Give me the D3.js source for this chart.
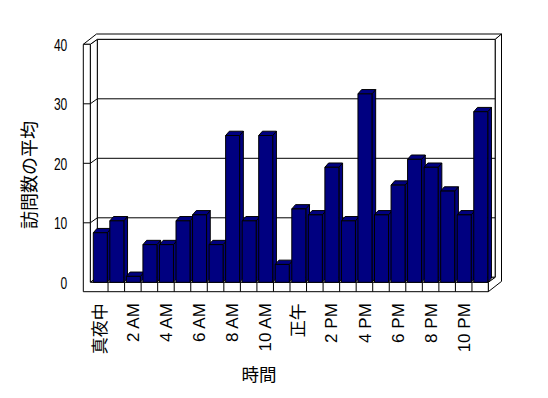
<!DOCTYPE html>
<html><head><meta charset="utf-8">
<script src="https://cdn.jsdelivr.net/npm/d3@7"></script>
<style>html,body{margin:0;padding:0;background:#fff;overflow:hidden}svg{display:block}</style>
</head><body>
<svg id="c" width="548" height="398"></svg>
<script>
// ---- data ----
const hours = [0,1,2,3,4,5,6,7,8,9,10,11,12,13,14,15,16,17,18,19,20,21,22,23];
const avgVisits = [8.33,10.33,1,6.33,6.33,10.33,11.33,6.33,24.67,10.33,24.67,3,12.33,11.33,19.33,10.33,31.67,11.33,16.33,20.67,19.33,15.33,11.33,28.67];
const labelHours = [0,2,4,6,8,10,12,14,16,18,20,22];
const hourLabels = ["真夜中","2 AM","4 AM","6 AM","8 AM","10 AM","正午","2 PM","4 PM","6 PM","8 PM","10 PM"];
const yTicks = [0,10,20,30,40];
const yTitle = "訪問数の平均";
const xTitle = "時間";

// ---- layout ----
const svg = d3.select("#c");
const FONT = "'Liberation Sans','Noto Sans CJK JP',sans-serif";
const fx0 = 90.3, fx1 = 488.3, slabX = 83.3, floorBottom = 291.7;
const dep = {x:7, y:-5};      // depth of plot box
const wallT = {x:6.2, y:-5.3}; // wall thickness
const bar = {off:1.8, w:14, dx:3.7, dy:-4.3};
const BAR = "#000080";

const x = d3.scaleBand().domain(hours).range([91.5, 488.5]).padding(0);
const y = d3.scaleLinear().domain([0,40]).range([282.3, 44.3]);
const y0 = y(0), yTop = y(40);
const line = d3.line();
const ln = {stroke:"#000","stroke-width":1,fill:"none"};
function poly(g, pts, fill){
  return g.append("path").attr("d", line(pts)+"Z").attr("fill",fill).attr("stroke","#000").attr("stroke-width",1).attr("stroke-linejoin","miter");
}

const frame = svg.append("g");
// back wall face
poly(frame, [[fx0+dep.x, yTop+dep.y],[fx1+dep.x, yTop+dep.y],[fx1+dep.x, y0+dep.y],[fx0+dep.x, y0+dep.y]], "#fff");
// gridlines on back wall
frame.selectAll("line.grid").data(yTicks.filter(t=>t>0 && t<40)).join("line")
  .attr("x1", fx0+dep.x).attr("x2", fx1+dep.x)
  .attr("y1", d=>y(d)+dep.y).attr("y2", d=>y(d)+dep.y)
  .attr("stroke","#000");
// left wall inner face
poly(frame, [[fx0, yTop],[fx0+dep.x, yTop+dep.y],[fx0+dep.x, y0+dep.y],[fx0, y0]], "#fff");
frame.selectAll("line.lt").data(yTicks.filter(t=>t>0 && t<40)).join("line")
  .attr("x1", fx0).attr("x2", fx0+dep.x)
  .attr("y1", d=>y(d)).attr("y2", d=>y(d)+dep.y).attr("stroke","#000");
// floor top
poly(frame, [[fx0, y0],[fx1, y0],[fx1+dep.x, y0+dep.y],[fx0+dep.x, y0+dep.y]], "#fff");
// top of walls
poly(frame, [[slabX, yTop],[fx0, yTop],[fx0+dep.x, yTop+dep.y],[fx1+dep.x, yTop+dep.y],
  [fx1+dep.x+wallT.x, yTop+dep.y+wallT.y],[slabX+dep.x+wallT.x, yTop+dep.y+wallT.y]], "#fff");
// right end faces
poly(frame, [[fx1+dep.x, yTop+dep.y],[fx1+dep.x+wallT.x, yTop+dep.y+wallT.y],
  [fx1+dep.x+wallT.x, floorBottom+dep.y+wallT.y],[fx1, floorBottom],[fx1, y0],[fx1+dep.x, y0+dep.y]], "#fff");
// front of left wall slab + floor slab
poly(frame, [[slabX, yTop],[fx0, yTop],[fx0, y0],[fx1, y0],[fx1, floorBottom],[slabX, floorBottom]], "#fff");
// tick marks on the slab front
frame.selectAll("line.st").data(yTicks.filter(t=>t>0 && t<40)).join("line")
  .attr("x1", slabX).attr("x2", fx0)
  .attr("y1", d=>y(d)).attr("y2", d=>y(d)).attr("stroke","#000");
// category dividers on floor front
frame.selectAll("line.div").data(hours.slice(1)).join("line")
  .attr("x1", d=>x(d)).attr("x2", d=>x(d))
  .attr("y1", y0).attr("y2", floorBottom).attr("stroke","#000");

// ---- bars ----
const bars = svg.append("g");
hours.forEach((h,i)=>{
  const v = avgVisits[i];
  const bx = x(h)+bar.off, yv = y(v);
  const g = bars.append("g");
  poly(g, [[bx+bar.w, yv],[bx+bar.w+bar.dx, yv+bar.dy],[bx+bar.w+bar.dx, y0+bar.dy],[bx+bar.w, y0]], BAR);
  poly(g, [[bx, yv],[bx+bar.w, yv],[bx+bar.w+bar.dx, yv+bar.dy],[bx+bar.dx, yv+bar.dy]], BAR);
  poly(g, [[bx, yv],[bx+bar.w, yv],[bx+bar.w, y0],[bx, y0]], BAR);
});

// ---- axes ----
const yAxis = svg.append("g").attr("transform", `translate(${slabX},0)`)
  .call(d3.axisLeft(y).tickValues(yTicks).tickSize(0).tickPadding(16));
yAxis.select(".domain").remove();
yAxis.selectAll("text").attr("font-family", FONT).attr("font-size", 16).attr("fill","#000")
  .attr("dy","0.38em")
  .attr("textLength", d=>String(d).length*6.7).attr("lengthAdjust","spacingAndGlyphs");

const xAxis = svg.append("g").attr("transform", `translate(0,${floorBottom})`)
  .call(d3.axisBottom(x).tickValues(labelHours).tickSize(0)
    .tickFormat(d=>hourLabels[labelHours.indexOf(d)]));
xAxis.select(".domain").remove();
xAxis.selectAll("text").attr("font-family", FONT).attr("font-size", 17).attr("fill","#000")
  .attr("transform","rotate(-90)").attr("text-anchor","end")
  .attr("x", -11.5).attr("y", 0).attr("dy","0.36em");

// ---- titles ----
svg.append("text").text(yTitle)
  .attr("font-family", FONT).attr("font-size", 18).attr("fill","#000")
  .attr("text-anchor","middle").attr("dominant-baseline","central")
  .attr("transform","translate(29.5,175) rotate(-90)");
svg.append("text").text(xTitle)
  .attr("font-family", FONT).attr("font-size", 17.5).attr("fill","#000")
  .attr("text-anchor","middle").attr("dominant-baseline","central")
  .attr("x", 259).attr("y", 375);
</script>
</body></html>
